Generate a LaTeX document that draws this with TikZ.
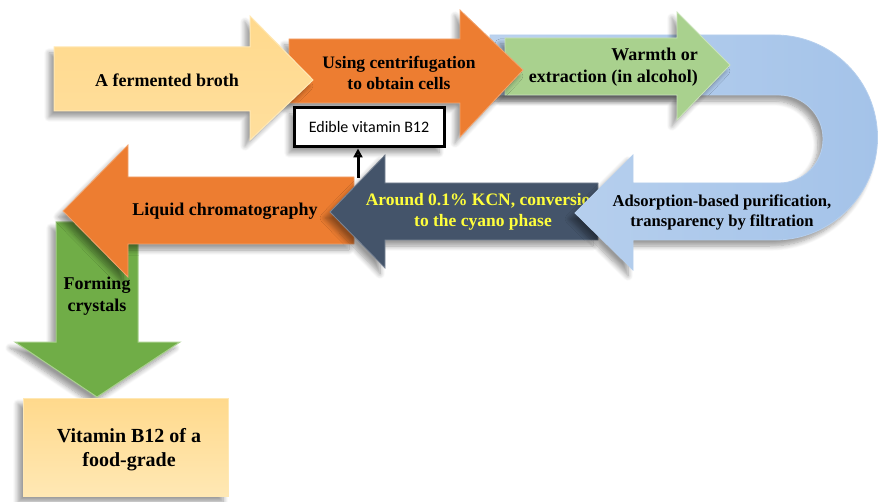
\documentclass[tikz,border=0pt]{standalone}
\usepackage{fontspec}
\setmainfont{Liberation Serif}
\newfontfamily\calfont{Carlito}
\usetikzlibrary{shadows.blur,arrows.meta}
\definecolor{cyel}{HTML}{FFD98C}
\definecolor{cyell}{HTML}{FFE8B4}
\definecolor{cora}{HTML}{ED7D31}
\definecolor{cgrl}{HTML}{A9D18E}
\definecolor{cgrd}{HTML}{70AD47}
\definecolor{cblu}{HTML}{A4C3E9}
\definecolor{cnav}{HTML}{44546A}
\definecolor{ctxy}{HTML}{FFFF3C}
\tikzset{
  shp/.style={blur shadow={shadow xshift=-5pt,shadow yshift=-6pt,shadow blur radius=5pt,shadow blur steps=8,shadow opacity=40}},
  lbl/.style={font={\fontsize{#1pt}{1.2\dimexpr#1pt\relax}\selectfont\bfseries},align=center,inner sep=0pt},
}
\begin{document}
\begin{tikzpicture}[x=1pt,y=-1pt]
\useasboundingbox (0,0) rectangle (880,502);
% bottom row first
\path[shp,fill=cgrd,draw=cgrl,line width=1pt]
  (56,222) -- (138,222) -- (138,342) -- (180,342) -- (97,397) -- (15,342) -- (56,342) -- cycle;
\path[shp,fill=cora,draw=cora!70!white,line width=0.8pt]
  (354,177) -- (128,177) -- (128,145) -- (63,211) -- (128,277) -- (128,244) -- (354,244) -- cycle;
\path[shp,fill=cnav,draw=cnav!70!white,line width=0.8pt]
  (598,183) -- (385,183) -- (385,155) -- (330,212) -- (385,268) -- (385,240) -- (598,240) -- cycle;
\node[lbl=17.5,text=ctxy] (kcn) at (483,212) {Around 0.1\% KCN, conversion\\to the cyano phase};
% blue U
\path[shp,left color=cblu!75!white,right color=cblu,draw=cblu!80!white,line width=0.8pt]
  (490,35) -- (775,35) arc[start angle=-90,end angle=90,radius=102.5] -- (633,240) -- (633,270)
  -- (575,213) -- (633,155) -- (633,183) -- (779,183) arc[start angle=90,end angle=-90,radius=44]
  -- (490,95) -- cycle;
\node[lbl=16.6] (ads) at (722,212) {Adsorption-based purification,\\transparency by filtration};
% top row
\path[shp,fill=cgrl,draw=cgrl!60!white,line width=0.8pt]
  (505,38) -- (677,38) -- (677,12) -- (730,65) -- (677,120) -- (677,95) -- (505,95) -- cycle;
\node[lbl=18,align=right,anchor=east] (warm) at (698,67) {Warmth or\\extraction (in alcohol)};
\path[shp,fill=cora,draw=cora!70!white,line width=0.8pt]
  (289,39) -- (460,39) -- (460,10) -- (523,70) -- (460,137) -- (460,103) -- (289,103) -- cycle;
\node[lbl=17.5] (cent) at (399,73) {Using centrifugation\\to obtain cells};
\path[shp,top color=cyel,bottom color=cyel!85!white,draw=cyell,line width=1pt]
  (54,47) -- (250,47) -- (250,16) -- (313,80) -- (250,140) -- (250,111) -- (54,111) -- cycle;
\node[lbl=18] (broth) at (167,80) {A fermented broth};
% labels bottom
\node[lbl=18] (liq) at (225,211) {Liquid chromatography};
\node[lbl=18] (form) at (97,296) {Forming\\crystals};
% final box
\path[shp,top color=cyel,bottom color=cyell,draw=cyell,line width=1pt] (23,398) rectangle (228,496);
\node[lbl=20] (vit) at (129,450) {Vitamin B12 of a\\food-grade};
% edible box
\node[shp,draw=black,fill=white,line width=3pt,minimum width=150pt,minimum height=39pt,inner sep=0pt,font={\calfont\fontsize{16}{19}\selectfont}] (edi) at (369,127.5) {Edible vitamin B12};
\coordinate (ab) at (358,178);
\draw[line width=3pt,-{Triangle[width=9pt,length=9pt]}] (ab) -- (ab |- edi.south);
\end{tikzpicture}
\end{document}
